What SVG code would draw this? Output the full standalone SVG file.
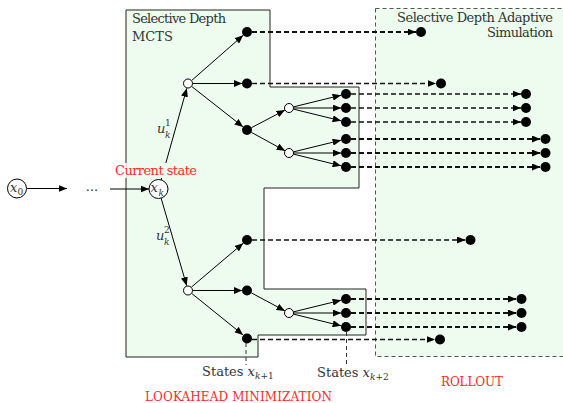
<svg xmlns="http://www.w3.org/2000/svg" width="563" height="403" viewBox="0 0 563 403">
<style>
.t{font-family:"DejaVu Serif",serif;fill:#333}
.red{fill:#ff2a2a}
.it{font-style:italic}
.sol{stroke:#000;stroke-width:1;fill:none;marker-end:url(#ah)}
.dt{stroke:#111;stroke-width:1.3;fill:none;stroke-dasharray:5 3;marker-end:url(#ah)}
.dk{stroke:#111;stroke-width:2.2;fill:none;stroke-dasharray:5 3;marker-end:url(#ah)}
.vd{stroke:#333;stroke-width:1;fill:none;stroke-dasharray:4 3}
.fn{fill:#000}
.on{fill:#fff;stroke:#000;stroke-width:1}
.bg{fill:#edfcee}
</style>
<defs>
<marker id="ah" markerUnits="userSpaceOnUse" markerWidth="9" markerHeight="7" refX="8.5" refY="3.5" orient="auto">
<path d="M0,0 L8.5,3.5 L0,7 Z" fill="#000"/>
</marker>
</defs>
<rect width="563" height="403" fill="#fff"/>
<g id="rollout-region">
<rect x="375.5" y="8.5" width="200" height="348" class="bg" stroke="#555" stroke-width="1" stroke-dasharray="4 3"/>
</g>
<g id="mcts-region">
<path d="M126,10 H270 V87 H359 V188 H264 V289 H366 V335 H258 V357 H126 Z" class="bg" stroke="#222" stroke-width="1"/>
</g>
<g id="labels">
<text class="t" x="132" y="23" font-size="13" textLength="94">Selective Depth</text>
<text class="t" x="132" y="41" font-size="13">MCTS</text>
<text class="t" x="397" y="22" font-size="13" textLength="156">Selective Depth Adaptive</text>
<text class="t" x="487" y="37" font-size="13" textLength="66">Simulation</text>
<text class="t it" x="157" y="133" font-size="13">u</text>
<text class="t" x="165" y="126" font-size="9">1</text>
<text class="t it" x="165" y="138" font-size="9">k</text>
<text class="t it" x="156" y="240" font-size="13">u</text>
<text class="t" x="164" y="233" font-size="9">2</text>
<text class="t it" x="164" y="245" font-size="9">k</text>
<text class="t" x="202" y="376" font-size="13">States <tspan class="it">x</tspan><tspan font-size="9" dy="3"><tspan class="it">k</tspan>+1</tspan></text>
<text class="t" x="317" y="377" font-size="13">States <tspan class="it">x</tspan><tspan font-size="9" dy="3"><tspan class="it">k</tspan>+2</tspan></text>
<text class="t red" x="145" y="401" font-size="12" textLength="187">LOOKAHEAD MINIMIZATION</text>
<text class="t red" x="441" y="386" font-size="12" textLength="62">ROLLOUT</text>
<text class="t" x="92" y="191" font-size="13" text-anchor="middle">...</text>
</g>
<g id="connectors">
<line class="sol" x1="27" y1="188.5" x2="67" y2="188.5"/>
<line class="sol" x1="110" y1="189" x2="149" y2="189"/>
<line class="sol" x1="161.1" y1="179.9" x2="186.8" y2="88.3"/>
<line class="sol" x1="161.1" y1="198.1" x2="186.7" y2="285.7"/>
<line class="sol" x1="191.4" y1="80.7" x2="243.2" y2="35.3"/>
<line class="sol" x1="192.5" y1="83.5" x2="242.2" y2="83.5"/>
<line class="sol" x1="191.5" y1="86.3" x2="243.1" y2="126.9"/>
<line class="sol" x1="251.4" y1="127.7" x2="285" y2="110.1"/>
<line class="sol" x1="251.4" y1="132.4" x2="285.1" y2="150.8"/>
<line class="sol" x1="293.4" y1="106.9" x2="341.1" y2="95.2"/>
<line class="sol" x1="293.5" y1="108" x2="341.2" y2="108"/>
<line class="sol" x1="293.4" y1="109.1" x2="341.1" y2="120.8"/>
<line class="sol" x1="293.4" y1="151.9" x2="341.1" y2="140.2"/>
<line class="sol" x1="293.5" y1="153" x2="341.2" y2="153"/>
<line class="sol" x1="293.4" y1="154.1" x2="341.1" y2="165.8"/>
<line class="sol" x1="191.4" y1="287.1" x2="243.2" y2="243.2"/>
<line class="sol" x1="192.5" y1="290.5" x2="242.2" y2="290.5"/>
<line class="sol" x1="191.5" y1="293.3" x2="243.1" y2="334.9"/>
<line class="sol" x1="251.4" y1="292.9" x2="285" y2="310.9"/>
<line class="sol" x1="293.4" y1="311.9" x2="341.1" y2="300.2"/>
<line class="sol" x1="293.5" y1="313" x2="341.2" y2="313"/>
<line class="sol" x1="293.4" y1="314.1" x2="341.1" y2="325.8"/>
<line class="dk" x1="252" y1="32" x2="416" y2="32"/>
<line class="dt" x1="252" y1="83.5" x2="436" y2="83.5"/>
<line class="dt" x1="351" y1="94" x2="521" y2="94"/>
<line class="dt" x1="351" y1="108" x2="521" y2="108"/>
<line class="dt" x1="351" y1="122" x2="521" y2="122"/>
<line class="dk" x1="351" y1="139" x2="540.5" y2="139"/>
<line class="dk" x1="351" y1="153" x2="540.5" y2="153"/>
<line class="dk" x1="351" y1="167" x2="540.5" y2="167"/>
<line class="dt" x1="252" y1="240" x2="465.5" y2="240"/>
<line class="dk" x1="351" y1="299" x2="516.5" y2="299"/>
<line class="dk" x1="351" y1="313" x2="516.5" y2="313"/>
<line class="dk" x1="351" y1="327" x2="516.5" y2="327"/>
<line class="dt" x1="252" y1="339.5" x2="435" y2="339.5"/>
<line class="vd" x1="246" y1="343" x2="246" y2="365"/>
<line class="vd" x1="346.5" y1="332" x2="346.5" y2="364"/>
</g>
<g id="current-state-label">
<rect x="113" y="163" width="13.5" height="15" fill="#fff"/>
<rect x="126.5" y="163" width="72" height="15" class="bg"/>
<text class="t red" x="115" y="175" font-size="13" textLength="82">Current state</text>
</g>
<g id="node-x0"><circle cx="17" cy="188.5" r="9.5" class="on"/><text class="t it" x="10" y="192" font-size="13">x</text><text class="t" x="17.5" y="195" font-size="9">0</text></g>
<g id="node-xk"><circle cx="158.5" cy="189" r="9.5" class="on"/><text class="t it" x="150.5" y="192" font-size="13">x</text><text class="t it" x="158.5" y="195.5" font-size="9">k</text></g>
<g id="node-a1"><circle cx="188" cy="83.5" r="4.5" class="on"/></g>
<g id="node-a2"><circle cx="188" cy="290.5" r="4.5" class="on"/></g>
<g id="node-b1"><circle cx="247" cy="32" r="5" class="fn"/></g>
<g id="node-b2"><circle cx="247" cy="83.5" r="5" class="fn"/></g>
<g id="node-b3"><circle cx="247" cy="130" r="5" class="fn"/></g>
<g id="node-c1"><circle cx="289" cy="108" r="4.5" class="on"/></g>
<g id="node-c2"><circle cx="289" cy="153" r="4.5" class="on"/></g>
<g id="node-d1"><circle cx="346" cy="94" r="5" class="fn"/></g>
<g id="node-d2"><circle cx="346" cy="108" r="5" class="fn"/></g>
<g id="node-d3"><circle cx="346" cy="122" r="5" class="fn"/></g>
<g id="node-d4"><circle cx="346" cy="139" r="5" class="fn"/></g>
<g id="node-d5"><circle cx="346" cy="153" r="5" class="fn"/></g>
<g id="node-d6"><circle cx="346" cy="167" r="5" class="fn"/></g>
<g id="node-f1"><circle cx="247" cy="240" r="5" class="fn"/></g>
<g id="node-f2"><circle cx="247" cy="290.5" r="5" class="fn"/></g>
<g id="node-f3"><circle cx="247" cy="338.5" r="5" class="fn"/></g>
<g id="node-g"><circle cx="289" cy="313" r="4.5" class="on"/></g>
<g id="node-h1"><circle cx="346" cy="299" r="5" class="fn"/></g>
<g id="node-h2"><circle cx="346" cy="313" r="5" class="fn"/></g>
<g id="node-h3"><circle cx="346" cy="327" r="5" class="fn"/></g>
<g id="node-r1"><circle cx="421" cy="32" r="5" class="fn"/></g>
<g id="node-r2"><circle cx="441" cy="83.5" r="5" class="fn"/></g>
<g id="node-r3"><circle cx="526" cy="94" r="5" class="fn"/></g>
<g id="node-r4"><circle cx="526" cy="108" r="5" class="fn"/></g>
<g id="node-r5"><circle cx="526" cy="122" r="5" class="fn"/></g>
<g id="node-r6"><circle cx="545.5" cy="139" r="5" class="fn"/></g>
<g id="node-r7"><circle cx="545.5" cy="153" r="5" class="fn"/></g>
<g id="node-r8"><circle cx="545.5" cy="167" r="5" class="fn"/></g>
<g id="node-r9"><circle cx="470.5" cy="240" r="5" class="fn"/></g>
<g id="node-r10"><circle cx="521.5" cy="299" r="5" class="fn"/></g>
<g id="node-r11"><circle cx="521.5" cy="313" r="5" class="fn"/></g>
<g id="node-r12"><circle cx="521.5" cy="327" r="5" class="fn"/></g>
<g id="node-r13"><circle cx="440" cy="339.5" r="5" class="fn"/></g>
</svg>
